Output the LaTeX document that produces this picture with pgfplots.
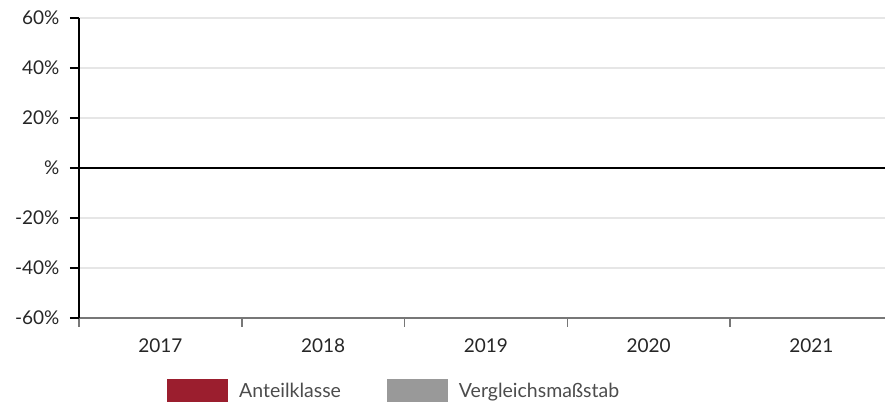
\documentclass[border=0pt]{standalone}
\usepackage{pgfplots}
\pgfplotsset{compat=1.18}
\usepackage{fontspec}
\setmainfont{Lato}
\definecolor{redc}{HTML}{9B1E2E}
\definecolor{grayc}{HTML}{999999}
\definecolor{gridc}{HTML}{E6E6E6}
\definecolor{xaxc}{HTML}{777777}
\begin{document}
\begin{tikzpicture}
\begin{axis}[
  at={(79pt,85pt)}, anchor=south west,
  scale only axis, width=813.75pt, height=300pt,
  xmin=-0.5, xmax=4.5, ymin=-60, ymax=60,
  axis x line=bottom, axis y line=left,
  x axis line style={-, draw=xaxc, line width=1.5pt},
  y axis line style={-, draw=black, line width=1.5pt},
  tick align=outside, major tick length=9pt,
  xtick={-0.5,0.5,1.5,2.5,3.5}, xticklabels={},
  xtick style={draw=xaxc, line width=1.5pt},
  ytick style={draw=black, line width=1.5pt},
  extra x ticks={0,1,2,3,4},
  extra x tick labels={2017,2018,2019,2020,2021},
  extra x tick style={major tick length=0pt, xtick style={draw=none}, grid=none},
  ytick={-60,-40,-20,0,20,40,60},
  yticklabels={-60\%,-40\%,-20\%,\%,20\%,40\%,60\%},
  ymajorgrids, grid style={draw=gridc, line width=1.2pt},
  tick label style={font=\fontsize{19}{19}\selectfont, text=black!85},
  yticklabel style={xshift=-7pt},
  xticklabel style={yshift=-17pt},
  legend columns=2,
  legend style={at={(rel axis cs:0.1081,-0.2433)}, anchor=west, draw=none, fill=none,
    inner sep=0pt, column sep=0pt,
    font=\fontsize{19.5}{19.5}\selectfont, text=black!70,
    nodes={inner sep=0pt},
    /tikz/every odd column/.append style={column sep=11pt},
    /tikz/every even column/.append style={column sep=46pt}},
  legend image code/.code={\fill[#1] (0pt,-11.5pt) rectangle (61pt,11.5pt);},
]
\addplot[black, line width=1.5pt, forget plot] coordinates {(-0.5,0) (4.5,0)};
\addlegendimage{fill=redc, draw=none}
\addlegendentry{Anteilklasse}
\addlegendimage{fill=grayc, draw=none}
\addlegendentry{Vergleichsmaßstab}
\end{axis}
\pgfresetboundingbox
\useasboundingbox (0,0) rectangle (885pt,403pt);
\end{tikzpicture}
\end{document}
